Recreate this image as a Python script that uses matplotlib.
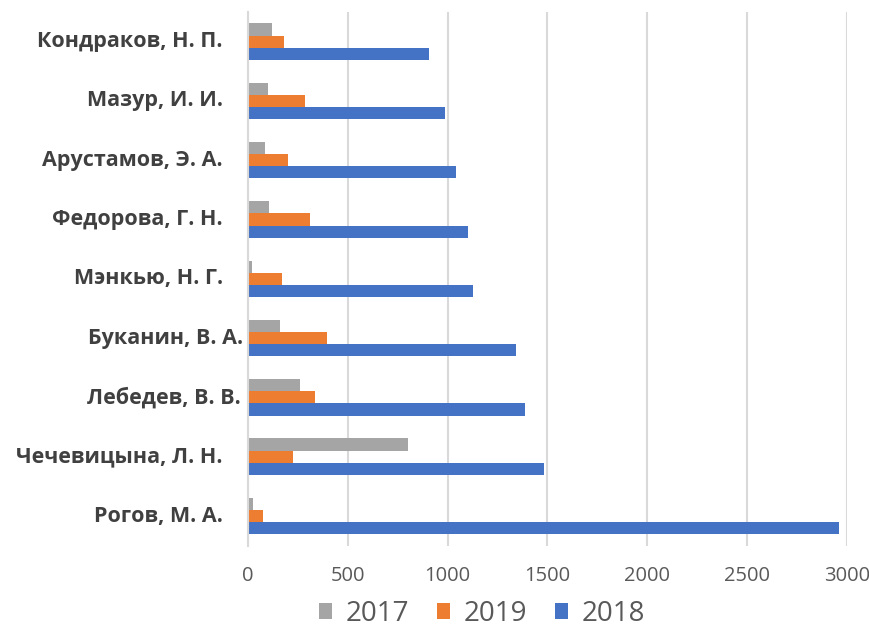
import matplotlib
matplotlib.use("Agg")
import matplotlib.pyplot as plt
import matplotlib.transforms as mtransforms
import numpy as np

plt.rcParams['font.family'] = ['Open Sans', 'DejaVu Sans']

# data
names = ['Кондраков, Н. П.', 'Мазур, И. И.', 'Арустамов, Э. А.', 'Федорова, Г. Н.',
         'Мэнкью, Н. Г.', 'Буканин, В. А.', 'Лебедев, В. В.',
         'Чечевицына, Л. Н.', 'Рогов, М. А.']
v2017 = [122, 98, 87, 103, 18, 158, 262, 800, 27]
v2019 = [182, 287, 203, 313, 172, 398, 337, 227, 75]
v2018 = [905, 987, 1042, 1102, 1125, 1340, 1387, 1483, 2960]
xticks = [0, 500, 1000, 1500, 2000, 2500, 3000]
# label end shift (px), a couple of labels sit further right in the original
shift = [0, 0, 0, 0, 0, 20, 18, 0, 0]

fig = plt.figure(figsize=(8.7, 6.33), dpi=100)
ax = fig.add_axes([0.285, 0.138, 0.6886, 0.843])

y = np.arange(len(names))
h = 0.205
b1 = ax.barh(y - h, v2017, height=h, color='#A5A5A5', label='2017')
b2 = ax.barh(y, v2019, height=h, color='#ED7D31', label='2019')
b3 = ax.barh(y + h, v2018, height=h, color='#4472C4', label='2018')

ax.set_ylim(len(names) - 0.5, -0.5)
ax.set_xlim(0, 3000)
ax.set_xticks(xticks)
ax.set_yticks(y)
ax.set_yticklabels([])
ax.tick_params(axis='x', length=0, labelsize=14.5, labelcolor='#595959', pad=15)
ax.tick_params(axis='y', length=0)
ax.grid(axis='x', color='#d9d9d9', linewidth=1.5)
ax.set_axisbelow(True)
for s in ['top', 'right', 'bottom']:
    ax.spines[s].set_visible(False)
ax.spines['left'].set_color('#d9d9d9')
ax.spines['left'].set_linewidth(1.5)

base = ax.get_yaxis_transform()
for yi, name, dx in zip(y, names, shift):
    tr = base + mtransforms.ScaledTranslation((dx - 25) / 100, 0, fig.dpi_scale_trans)
    ax.text(0, yi, name, transform=tr, ha='right', va='center',
            fontsize=15.5, fontweight='bold', color='#404040')

fig.legend(handles=[b1, b2, b3], loc='center', bbox_to_anchor=(0.554, 0.03),
           ncol=3, frameon=False, fontsize=20, labelcolor='#595959',
           handlelength=0.47, handleheight=0.47, handletextpad=0.5,
           columnspacing=1.0, borderpad=0.1)

fig.savefig('out.png', dpi=100)
